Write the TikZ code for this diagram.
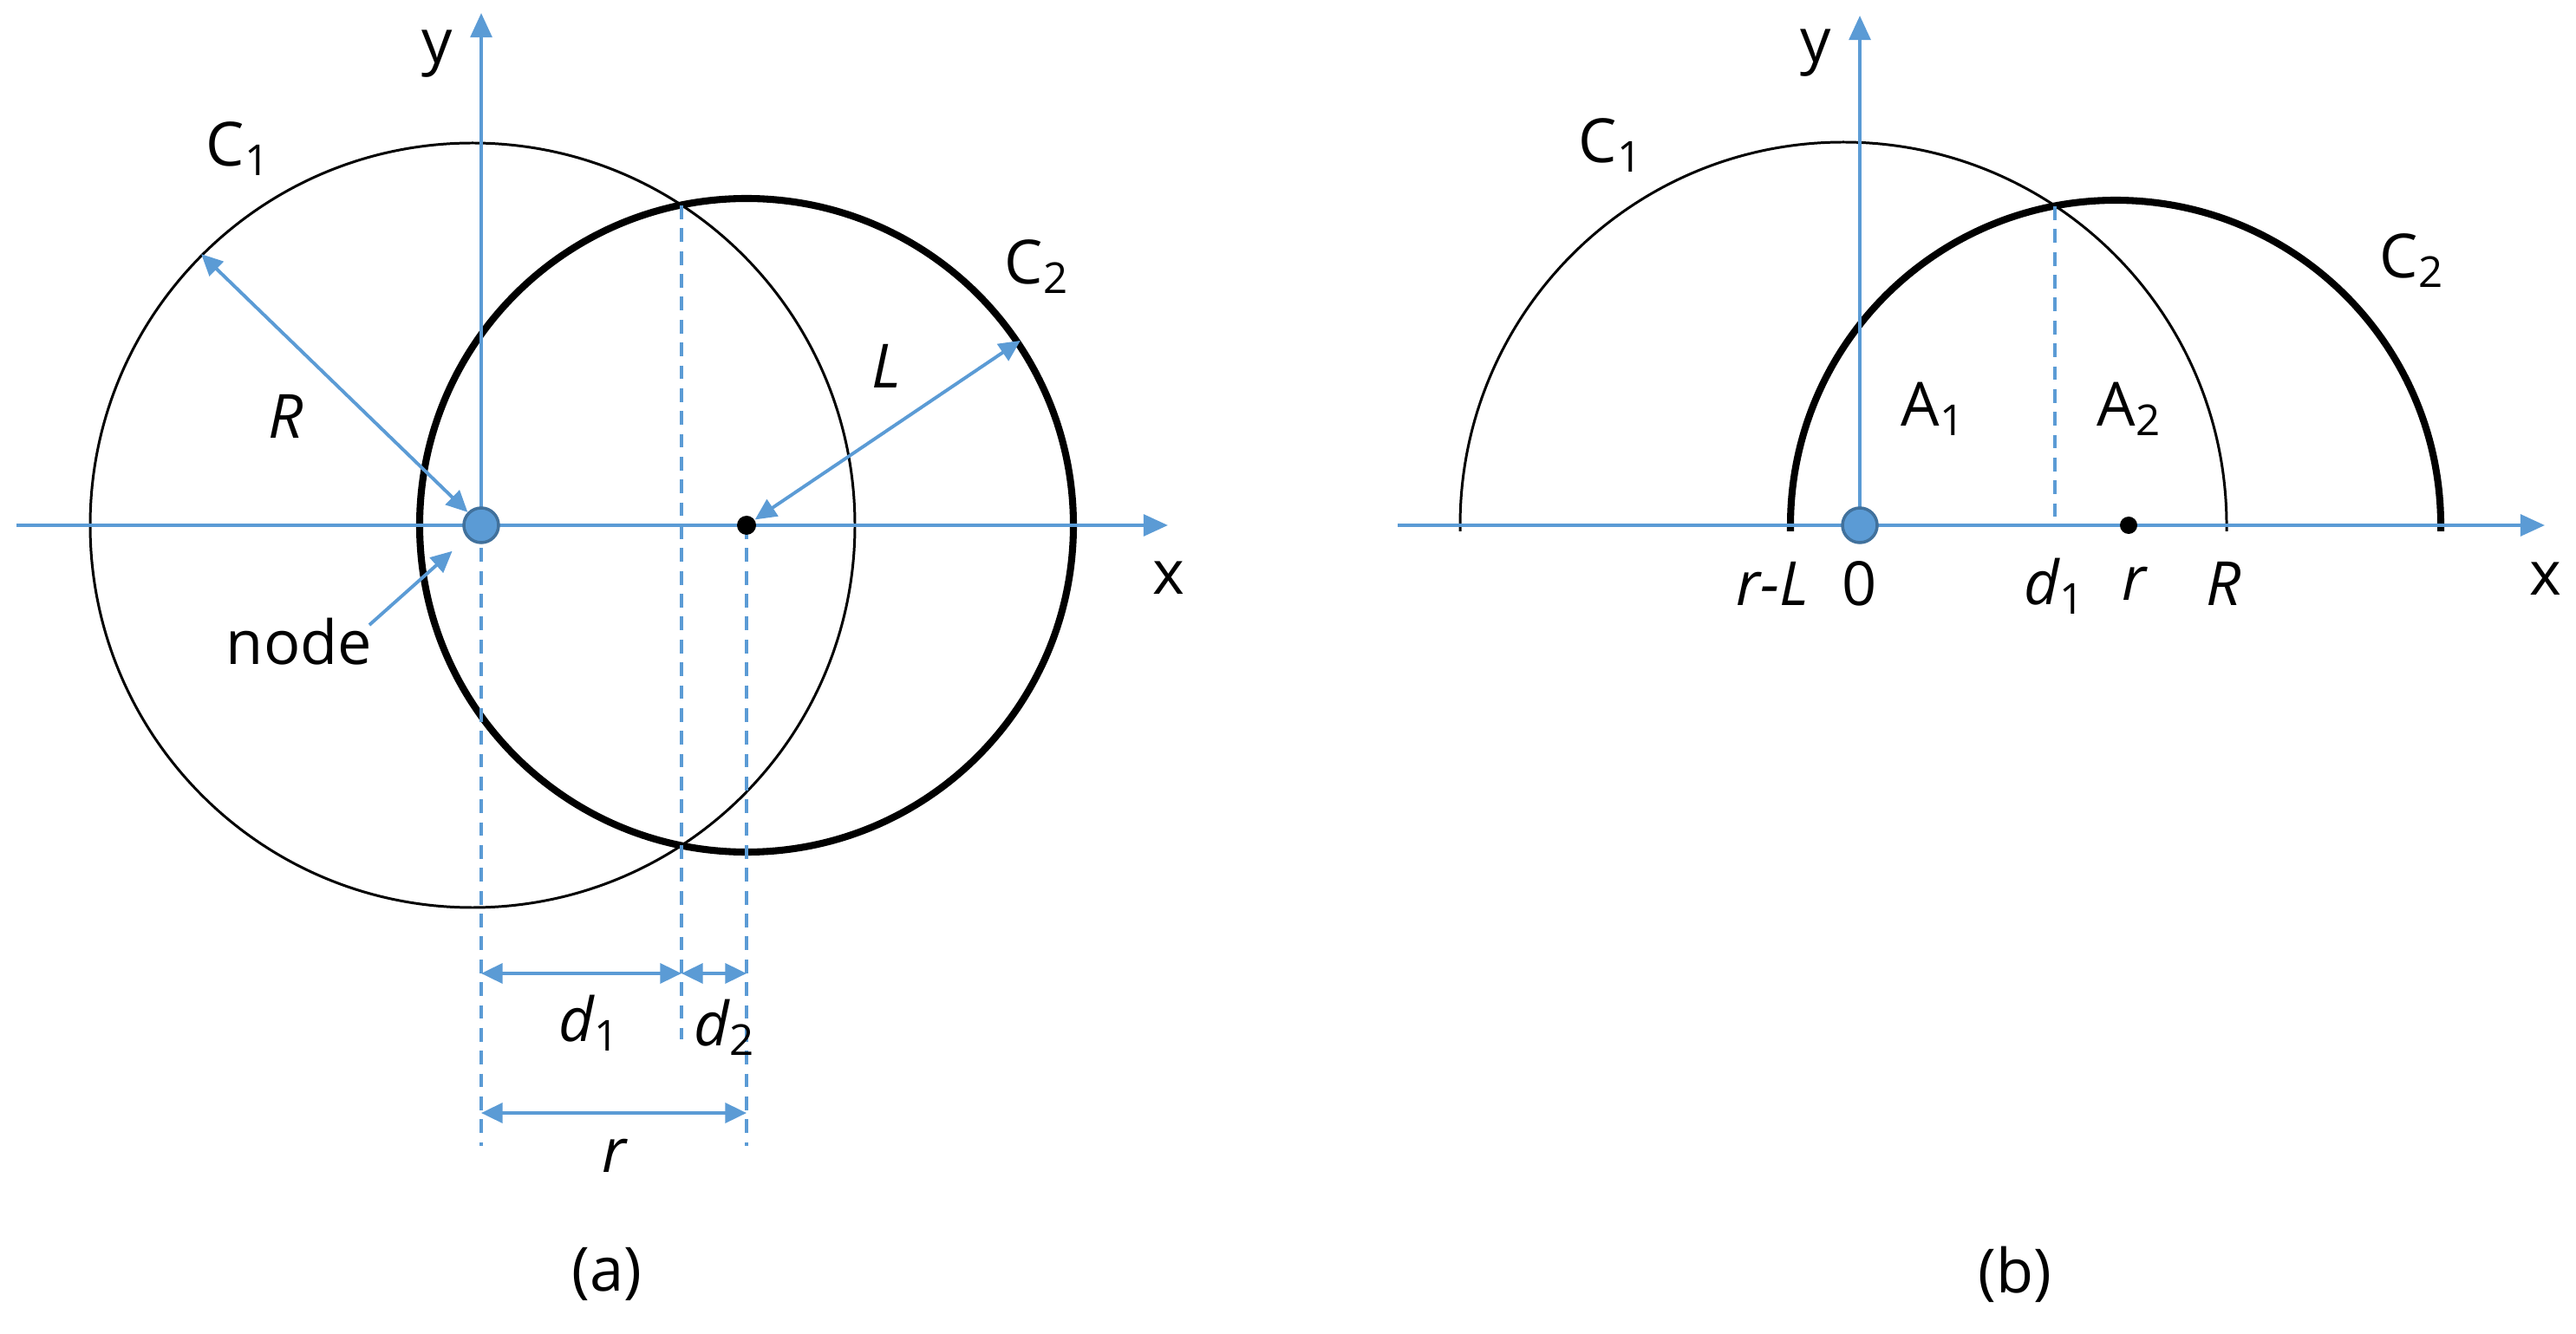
\documentclass[tikz,border=0pt]{standalone}
\usepackage{fontspec}
\setmainfont{Open Sans}
\usetikzlibrary{arrows.meta}
\definecolor{axisblue}{HTML}{5B9BD5}
\definecolor{nodeedge}{HTML}{41719C}
\tikzset{every node/.style={font=\fontsize{20}{24}\selectfont},
	tip/.style={Triangle[length=7pt,width=6.5pt]}}
\tikzstyle{axis}=[draw=axisblue,line width=1.2pt,-{Triangle[length=8pt,width=7pt]}]
\tikzstyle{guide}=[draw=axisblue,line width=1.1pt,dash pattern=on 4.5pt off 3pt]
\tikzstyle{measure}=[draw=axisblue,line width=1.1pt,{Triangle[length=7pt,width=6.5pt]}-{Triangle[length=7pt,width=6.5pt]}]
\tikzstyle{pointer}=[draw=axisblue,line width=1.1pt,-{Triangle[length=7pt,width=6.5pt]}]
\tikzstyle{thinring}=[circle,draw=black,line width=0.85pt,inner sep=0pt]
\tikzstyle{thickring}=[circle,draw=black,line width=2.3pt,inner sep=0pt]
\tikzstyle{sensor}=[circle,fill=axisblue,draw=nodeedge,line width=1pt,minimum size=0.4cm,inner sep=0pt]
\tikzstyle{centre}=[circle,fill=black,minimum size=0.22cm,inner sep=0pt]
\newcommand{\lo}[1]{\textsubscript{#1}}

\begin{document}
\begin{tikzpicture}
	\useasboundingbox (0,0) rectangle (29.71,15.38);
	% (a) two full circles
	\node at (5.45,9.32) [thinring,minimum size=8.82cm] (c1a) {};
	\node at (8.61,9.32) [thickring,minimum size=7.54cm] (c2a) {};
	\coordinate (xa0) at (0.19,9.32);
	\coordinate (xa1) at (13.47,9.32);
	\coordinate (ya1) at (5.55,15.23);
	\coordinate (cut1) at (7.86,13.01);
	\coordinate (cut1b) at (7.86,3.39);
	\coordinate (o1b) at (5.55,2.16);
	\coordinate (p1b) at (8.61,2.16);
	\coordinate (da0) at (5.55,4.15);
	\coordinate (da1) at (7.86,4.15);
	\coordinate (da2) at (8.61,4.15);
	\coordinate (ra0) at (5.55,2.54);
	\coordinate (ra1) at (8.61,2.54);
	\draw[axis] (xa0) -- (xa1);
	\draw[axis] (5.55,9.32) -- (ya1);
	\draw[guide] (5.55,9.32) -- (o1b);
	\draw[guide] (8.61,9.32) -- (p1b);
	\draw[guide] (cut1) -- (cut1b);
	\draw[measure] (da0) -- (da1);
	\draw[measure] (da1) -- (da2);
	\draw[measure] (ra0) -- (ra1);
	\node at (5.55,9.32) [sensor] (o1) {};
	\node at (8.61,9.32) [centre] (p1) {};
	\draw[measure] (c1a.135) -- (o1);
	\draw[measure] (c2a.34) -- (p1);
	\node at (3.45,7.98) (nodelbl) {node};
	\draw[pointer,shorten >=0.23cm] (4.26,8.17) -- (o1);
	\node at (5.04,14.76) {y};
	\node at (13.48,8.71) {x};
	\node at (2.75,13.66) {C\lo{1}};
	\node at (11.96,12.30) {C\lo{2}};
	\node at (3.30,10.58) {\itshape R};
	\node at (10.22,11.16) {\itshape L};
	\node at (6.80,3.58) {\itshape d\upshape\lo{1}};
	\node at (8.36,3.53) {\itshape d\upshape\lo{2}};
	\node at (7.08,2.05) {\itshape r};
	\node at (7.00,0.68) {(a)};
	% (b) two half circles
	\draw[line width=0.85pt] (16.84,9.25) -- (16.84,9.32) arc[start angle=180,end angle=0,radius=4.42] -- (25.68,9.25);
	\draw[line width=2.3pt] (20.65,9.25) -- (20.65,9.32) arc[start angle=180,end angle=0,radius=3.75] -- (28.15,9.25);
	\coordinate (xb0) at (16.12,9.32);
	\coordinate (xb1) at (29.35,9.32);
	\coordinate (yb1) at (21.45,15.20);
	\coordinate (cut2) at (23.70,13.00);
	\coordinate (cut2b) at (23.70,9.32);
	\draw[axis] (xb0) -- (xb1);
	\draw[axis] (21.45,9.32) -- (yb1);
	\draw[guide] (cut2) -- (cut2b);
	\node at (21.45,9.32) [sensor] (o2) {};
	\node at (24.55,9.32) [centre,minimum size=0.2cm] (p2) {};
	\node at (20.94,14.77) {y};
	\node at (29.36,8.70) {x};
	\node at (18.58,13.70) {C\lo{1}};
	\node at (27.82,12.37) {C\lo{2}};
	\node at (22.30,10.66) {A\lo{1}};
	\node at (24.56,10.66) {A\lo{2}};
	\node at (20.44,8.65) {\itshape r-L};
	\node at (21.45,8.65) {0};
	\node at (23.70,8.62) {\itshape d\upshape\lo{1}};
	\node at (24.61,8.65) {\itshape r};
	\node at (25.65,8.65) {\itshape R};
	\node at (23.24,0.68) {(b)};
\end{tikzpicture}
\end{document}
